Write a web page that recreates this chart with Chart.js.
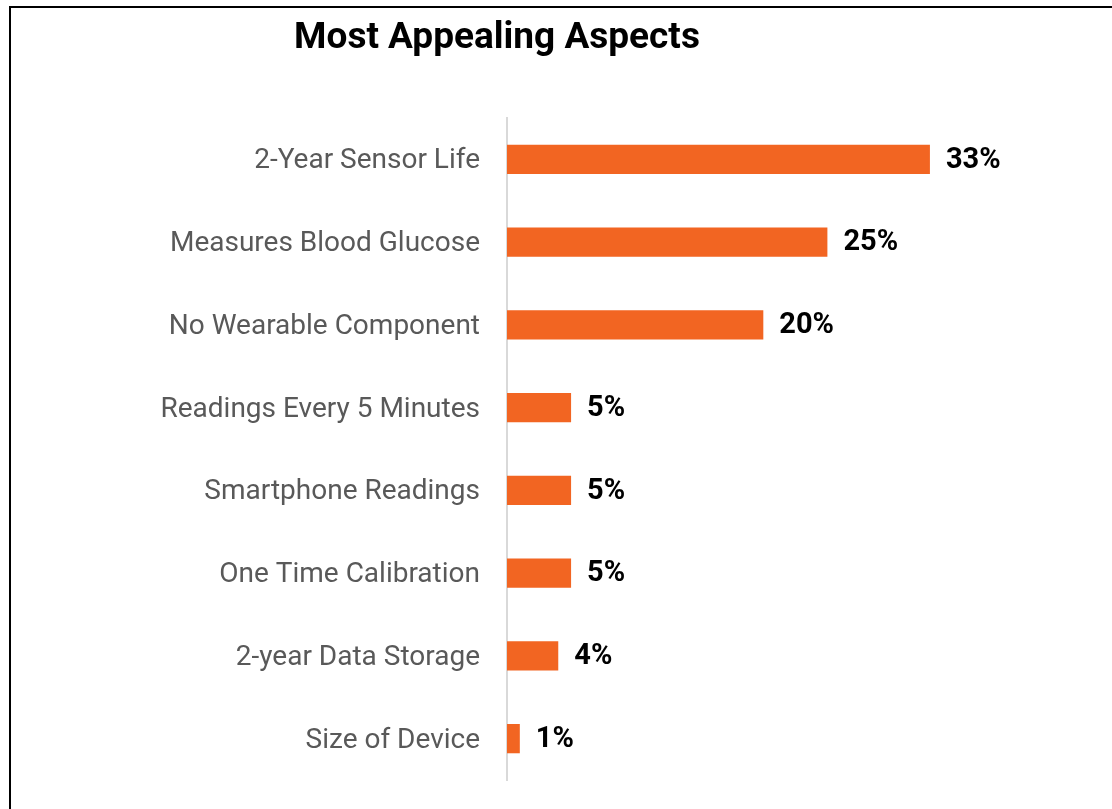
<!DOCTYPE html>
<html>
<head>
<meta charset="utf-8">
<title>Most Appealing Aspects</title>
<script src="https://cdn.jsdelivr.net/npm/chart.js@4/dist/chart.umd.min.js"></script>
<style>
  html, body { margin: 0; padding: 0; background: #ffffff; overflow: hidden; }
  #wrap { position: relative; width: 1112px; height: 809px; }
  #frame {
    position: absolute; left: 9px; top: 6px;
    width: 2000px; height: 2000px;
    border: 2px solid #000000; box-sizing: border-box;
    pointer-events: none;
  }
  canvas { position: absolute; left: 0; top: 0; }
</style>
</head>
<body>
<div id="wrap">
  <div id="frame"></div>
  <canvas id="chart" width="1112" height="809"></canvas>
</div>
<script>
// Survey answers, share of respondents (%)
const aspects = [
  '2-Year Sensor Life',
  'Measures Blood Glucose',
  'No Wearable Component',
  'Readings Every 5 Minutes',
  'Smartphone Readings',
  'One Time Calibration',
  '2-year Data Storage',
  'Size of Device'
];
const shares = [33, 25, 20, 5, 5, 5, 4, 1];
const chartTitle = 'Most Appealing Aspects';

const barColor = '#F26522';

// Writes "NN%" just past the end of each bar
const valueLabels = {
  id: 'valueLabels',
  afterDatasetsDraw(chart) {
    const ctx = chart.ctx;
    const meta = chart.getDatasetMeta(0);
    const data = chart.data.datasets[0].data;
    ctx.save();
    ctx.font = 'bold 29px Roboto';
    ctx.fillStyle = '#000000';
    ctx.textAlign = 'left';
    ctx.textBaseline = 'middle';
    meta.data.forEach((bar, i) => {
      ctx.fillText(data[i] + '%', bar.x + 16, bar.y + 1);
    });
    ctx.restore();
  }
};

new Chart(document.getElementById('chart'), {
  type: 'bar',
  data: {
    labels: aspects,
    datasets: [{
      data: shares,
      backgroundColor: barColor,
      borderWidth: 0,
      barPercentage: 0.354,
      categoryPercentage: 1
    }]
  },
  options: {
    indexAxis: 'y',
    responsive: false,
    animation: false,
    layout: { padding: { left: 0, right: 118, top: 0, bottom: 29 } },
    plugins: {
      legend: { display: false },
      tooltip: { enabled: false },
      title: {
        display: true,
        text: chartTitle,
        color: '#000000',
        font: { family: 'Roboto', size: 37, weight: 'bold', lineHeight: 1.2 },
        padding: { top: 17, bottom: 56.6 }
      }
    },
    scales: {
      x: {
        display: false,
        min: 0,
        max: 38
      },
      y: {
        afterFit(scale) {
          // fixed label column; no extra room reserved above/below for labels
          scale.width = 507;
          scale.paddingTop = 0;
          scale.paddingBottom = 0;
        },
        grid: { display: false, drawTicks: false },
        border: { display: true, color: '#d9d9d9', width: 2 },
        ticks: {
          color: '#595959',
          padding: 27,
          labelOffset: 2,
          font: { family: 'Roboto', size: 28 }
        }
      }
    }
  },
  plugins: [valueLabels]
});
</script>
</body>
</html>
